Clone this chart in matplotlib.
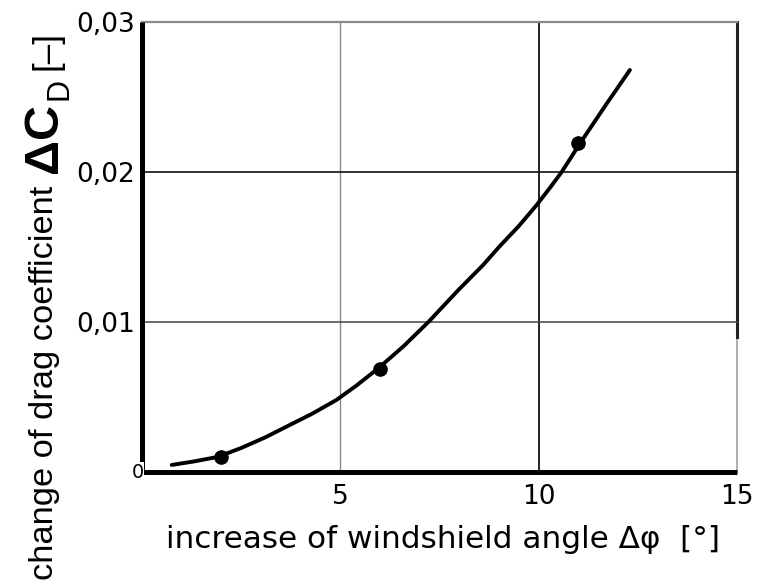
import matplotlib
matplotlib.use("Agg")
import matplotlib.pyplot as plt
from matplotlib.transforms import offset_copy

# ---- data ----
curve_x = [0.75, 1.3, 1.9, 2.5, 3.1, 3.7, 4.3, 4.9, 5.4, 5.95, 6.6, 7.22, 8.0, 8.6, 9.0, 9.5, 9.95, 10.3, 10.58, 11.04, 11.7, 12.3]
curve_y = [0.00047, 0.0007, 0.001, 0.0016, 0.0023, 0.0031, 0.0039, 0.0048, 0.00575, 0.0069, 0.0084, 0.0100, 0.0122, 0.0138, 0.0150, 0.0164, 0.0178, 0.0190, 0.0200, 0.0219, 0.0245, 0.0268]
points_x = [2, 6, 11]
points_y = [0.001, 0.0069, 0.0219]
xticks = [5, 10, 15]
xtick_labels = ["5", "10", "15"]
yticks = [0.01, 0.02, 0.03]
ytick_labels = ["0,01", "0,02", "0,03"]

REG = ["Liberation Sans", "DejaVu Sans"]

W, H = 761, 584
fig = plt.figure(figsize=(W / 100, H / 100), dpi=100)
L, R, B, T = 142, 737, 472, 22
ax = fig.add_axes([L / W, (H - B) / H, (R - L) / W, (B - T) / H])
ax.set_xlim(0, 15)
ax.set_ylim(0, 0.03)

for s in ["top", "right"]:
    ax.spines[s].set_visible(False)
for s in ["left", "bottom"]:
    ax.spines[s].set_linewidth(3.6)
    ax.spines[s].set_color("black")
    ax.spines[s].set_capstyle("butt")

# grid lines (scanned look)
ax.axvline(5, color="#8a8a8a", lw=1.0, zorder=1, clip_on=False)
ax.axvline(10, color="#111111", lw=1.3, zorder=1, clip_on=False)
ax.axvline(15, color="#999999", lw=1.1, zorder=1, ymax=0.30, clip_on=False)
ax.axvline(15, color="#222222", lw=2.2, zorder=1, ymin=0.30, ymax=1.0, clip_on=False)
ax.axhline(0.01, color="#444444", lw=1.1, zorder=1, clip_on=False)
ax.axhline(0.02, color="#111111", lw=1.2, zorder=1, clip_on=False)
ax.axhline(0.03, color="#8a8a8a", lw=1.6, zorder=1, clip_on=False)

ax.plot(curve_x, curve_y, color="black", lw=2.8, solid_capstyle="round",
        solid_joinstyle="round", zorder=3)
ax.plot(points_x, points_y, "o", color="black", ms=9.5, zorder=4)

ax.set_xticks(xticks)
ax.set_xticklabels(xtick_labels)
ax.set_yticks(yticks)
ax.set_yticklabels(ytick_labels)
ax.tick_params(length=0, labelsize=19, colors="black", labelfontfamily="DejaVu Sans")
ax.tick_params(axis="x", pad=9)
ax.tick_params(axis="y", pad=5)

ax.text(0, 0, "0", fontsize=14, ha="center", va="center",
        transform=offset_copy(ax.transData, fig=fig, x=-3, y=0, units="points"),
        bbox=dict(facecolor="white", edgecolor="none", pad=0.3), zorder=5, clip_on=False)

fig.canvas.draw()
renderer = fig.canvas.get_renderer()


def fit_text(x_px, y_px, s, target_len, fs0, family, rotation=0, weight="normal"):
    t = fig.text(x_px / W, 1 - y_px / H, s, fontsize=fs0, family=family,
                 rotation=rotation, rotation_mode="anchor", ha="left",
                 va="baseline", fontweight=weight)
    bb = t.get_window_extent(renderer)
    length = bb.height if rotation == 90 else bb.width
    t.set_fontsize(fs0 * target_len / length)
    return t


# x label
fit_text(166, 548, "increase of windshield angle Δφ  [°]", 720 - 166, 22, "DejaVu Sans")

# y label pieces (rotated), bottom to top
fit_text(53, 580, "change of drag coefficient", 580 - 188, 20, REG, rotation=90)
fit_text(57, 173, "ΔC", 173 - 103, 28, REG, rotation=90, weight="bold")
fit_text(67, 100, "D", 100 - 78, 17, REG, rotation=90)
fit_text(56, 70, "[–]", 70 - 31, 19, REG, rotation=90)

fig.savefig("out.png", dpi=100)
